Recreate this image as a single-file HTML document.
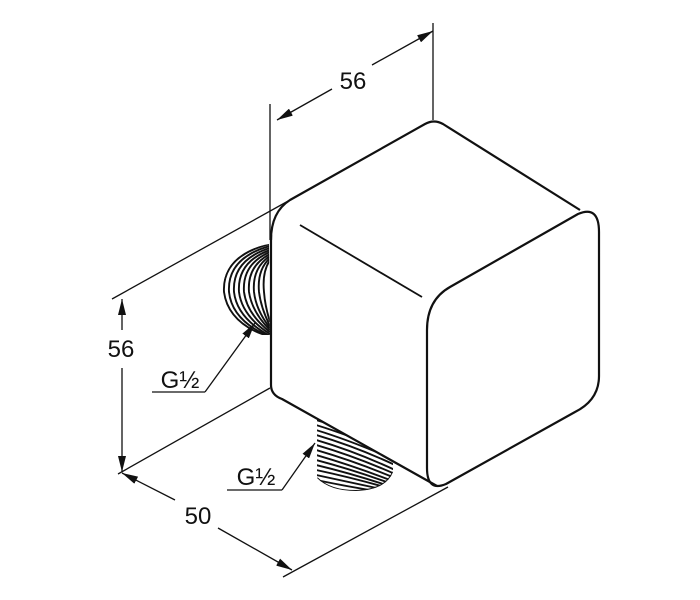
<!DOCTYPE html>
<html><head><meta charset="utf-8"><style>
html,body{margin:0;padding:0;background:#fff;}
svg{display:block}
text{font-family:"Liberation Sans",sans-serif;fill:#111}
</style></head><body>
<svg width="700" height="600" viewBox="0 0 700 600" xmlns="http://www.w3.org/2000/svg">
<defs>
<marker id="a" viewBox="0 0 16 8" refX="16" refY="4" markerWidth="16" markerHeight="8" markerUnits="userSpaceOnUse" orient="auto-start-reverse"><path d="M0,0 L16,4 L0,8 Z" fill="#111"/></marker>
<clipPath id="c1"><path d="M269,244 Q224,252 222,292 Q226,322 262,335 L270,335 Z"/></clipPath>
<clipPath id="c2"><path d="M317,418 L317,478 Q330,491 356,491 Q386,490 393,472 L393,463 Z"/></clipPath>
</defs>
<g stroke="#111" fill="none" stroke-width="1.3">
<line x1="270" y1="104" x2="270" y2="240"/>
<line x1="433" y1="23" x2="433" y2="120"/>
<line x1="112" y1="299" x2="290" y2="200"/>
<line x1="118" y1="474" x2="270" y2="388"/>
<line x1="283" y1="577" x2="448" y2="487"/>
<line x1="332" y1="89" x2="277" y2="120" marker-end="url(#a)"/>
<line x1="372" y1="65" x2="433" y2="31" marker-end="url(#a)"/>
<line x1="122" y1="330" x2="122" y2="299" marker-end="url(#a)"/>
<line x1="122" y1="368" x2="122" y2="472" marker-end="url(#a)"/>
<line x1="175" y1="500" x2="122" y2="473" marker-end="url(#a)"/>
<line x1="218" y1="528" x2="292" y2="570" marker-end="url(#a)"/>
<polyline points="152,392 205,392"/>
<line x1="205" y1="392" x2="255" y2="323" marker-end="url(#a)"/>
<polyline points="227,490 282,490"/>
<line x1="282" y1="490" x2="315" y2="443" marker-end="url(#a)"/>
</g>
<g clip-path="url(#c1)" stroke="#111" fill="none" stroke-width="1.9">
<path d="M270,244 Q222,256 224,292 Q228,322 266,336"/>
<path d="M270,246 Q227,258 229,292 Q232,320 268,336"/>
<path d="M270,248 Q232,260 234,292 Q237,318 270,336"/>
<path d="M270,250 Q237,262 239,292 Q242,316 270,334"/>
<path d="M270,252 Q242,264 244,292 Q247,314 270,332"/>
<path d="M270,254 Q247,266 249,292 Q252,312 270,330"/>
<path d="M270,256 Q252,268 254,292 Q256,310 270,328"/>
<path d="M270,258 Q257,270 259,292 Q261,308 270,326"/>
<path d="M270,260 Q262,272 264,292 Q265,306 270,322"/>
</g>
<g clip-path="url(#c2)" stroke="#111" fill="none" stroke-width="1.9">
<path d="M316,418 L316,480"/>
<path d="M316,420 Q350,430 395,450"/>
<path d="M316,425 Q352,436 395,455"/>
<path d="M316,430 Q352,441 395,460"/>
<path d="M316,435 Q354,446 395,465"/>
<path d="M316,440 Q354,451 395,470"/>
<path d="M316,445 Q354,456 395,474"/>
<path d="M316,450 Q354,461 395,478"/>
<path d="M316,455 Q354,466 395,482"/>
<path d="M316,460 Q354,470 395,485"/>
<path d="M316,465 Q354,474 395,488"/>
<path d="M316,470 Q354,478 395,490"/>
<path d="M316,475 Q354,483 395,492"/>
<path d="M316,480 Q354,488 395,494"/>
<path d="M317,478 Q330,491 356,491 Q386,490 393,472"/>
</g>
<g stroke="#111" fill="none" stroke-width="2.2" stroke-linejoin="round">
<path d="M271,240 Q271,212 290,200 L425,124 Q434,119 443,124 L580,210"/>
<path d="M271,235 L271,385 Q271,395 282,399 L437,486"/>
<path d="M450,287 L578,214 Q599,205 599,232 L599,376 Q599,400 575,412 L446,484 Q427,492 427,468 L427,330 Q427,300 450,287 Z"/>
<line x1="300" y1="225" x2="422" y2="297" stroke-width="1.8"/>
</g>
<text x="353" y="89" font-size="24" text-anchor="middle">56</text>
<text x="121" y="357" font-size="24" text-anchor="middle">56</text>
<text x="198" y="524" font-size="24" text-anchor="middle">50</text>
<text x="180" y="388" font-size="24" text-anchor="middle">G½</text>
<text x="256" y="485" font-size="24" text-anchor="middle">G½</text>
</svg>
</body></html>
